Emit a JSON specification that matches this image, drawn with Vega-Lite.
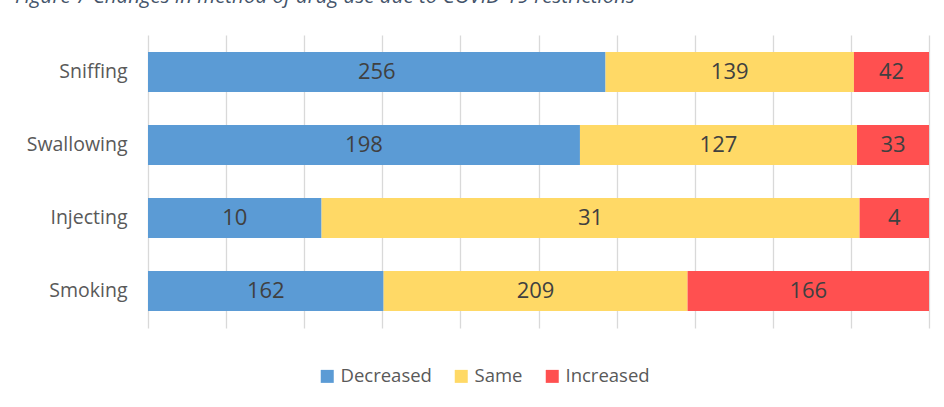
{
  "$schema": "https://vega.github.io/schema/vega-lite/v6.json",
  "width": 781,
  "height": 293,
  "autosize": "none",
  "padding": {"left": 148, "top": 35, "right": 15, "bottom": 79},
  "background": "white",
  "title": {
    "text": "Figure 7 Changes in method of drug use due to COVID-19 restrictions",
    "anchor": "start",
    "frame": "group",
    "dx": -133,
    "dy": -24,
    "font": "Open Sans",
    "fontSize": 20.5,
    "fontStyle": "italic",
    "fontWeight": "normal",
    "color": "#44546A"
  },
  "config": {
    "view": {"stroke": null},
    "font": "Open Sans"
  },
  "data": {
    "values": [
      {"method": "Sniffing", "change": "Decreased", "count": 256},
      {"method": "Sniffing", "change": "Same", "count": 139},
      {"method": "Sniffing", "change": "Increased", "count": 42},
      {"method": "Swallowing", "change": "Decreased", "count": 198},
      {"method": "Swallowing", "change": "Same", "count": 127},
      {"method": "Swallowing", "change": "Increased", "count": 33},
      {"method": "Injecting", "change": "Decreased", "count": 10},
      {"method": "Injecting", "change": "Same", "count": 31},
      {"method": "Injecting", "change": "Increased", "count": 4},
      {"method": "Smoking", "change": "Decreased", "count": 162},
      {"method": "Smoking", "change": "Same", "count": 209},
      {"method": "Smoking", "change": "Increased", "count": 166}
    ]
  },
  "transform": [
    {"calculate": "indexof(['Decreased','Same','Increased'], datum.change)", "as": "stackOrder"}
  ],
  "encoding": {
    "y": {
      "field": "method",
      "type": "nominal",
      "sort": ["Sniffing", "Swallowing", "Injecting", "Smoking"],
      "scale": {"paddingInner": 0.452, "paddingOuter": 0.233},
      "axis": {
        "title": null,
        "domain": false,
        "ticks": false,
        "labelPadding": 21,
        "labelFontSize": 19.5,
        "labelColor": "#595959",
        "labelFont": "Open Sans"
      }
    }
  },
  "layer": [
    {
      "mark": {"type": "bar"},
      "encoding": {
        "x": {
          "field": "count",
          "type": "quantitative",
          "stack": "normalize",
          "scale": {"domain": [0, 1], "nice": false},
          "axis": {
            "title": null,
            "labels": false,
            "ticks": false,
            "domain": false,
            "grid": true,
            "gridColor": "#d9d9d9",
            "gridWidth": 1.3,
            "values": [0, 0.1, 0.2, 0.3, 0.4, 0.5, 0.6, 0.7, 0.8, 0.9, 1]
          }
        },
        "order": {"field": "stackOrder", "type": "quantitative"},
        "color": {
          "field": "change",
          "type": "nominal",
          "sort": ["Decreased", "Same", "Increased"],
          "scale": {
            "domain": ["Decreased", "Same", "Increased"],
            "range": ["#5B9BD5", "#FFD966", "#FF5050"]
          },
          "legend": {
            "title": null,
            "orient": "none",
            "direction": "horizontal",
            "legendX": 170,
            "legendY": 332,
            "symbolType": "square",
            "symbolSize": 169,
            "symbolStrokeWidth": 0,
            "labelFontSize": 18.5,
            "labelColor": "#595959",
            "labelFont": "Open Sans",
            "columnPadding": 20,
            "labelOffset": 4
          }
        }
      }
    },
    {
      "mark": {"type": "text", "fontSize": 22, "color": "#404040", "font": "Open Sans"},
      "encoding": {
        "x": {"field": "count", "type": "quantitative", "stack": "normalize", "bandPosition": 0.5},
        "order": {"field": "stackOrder", "type": "quantitative"},
        "detail": {"field": "change", "type": "nominal"},
        "text": {"field": "count", "type": "quantitative"}
      }
    }
  ]
}
